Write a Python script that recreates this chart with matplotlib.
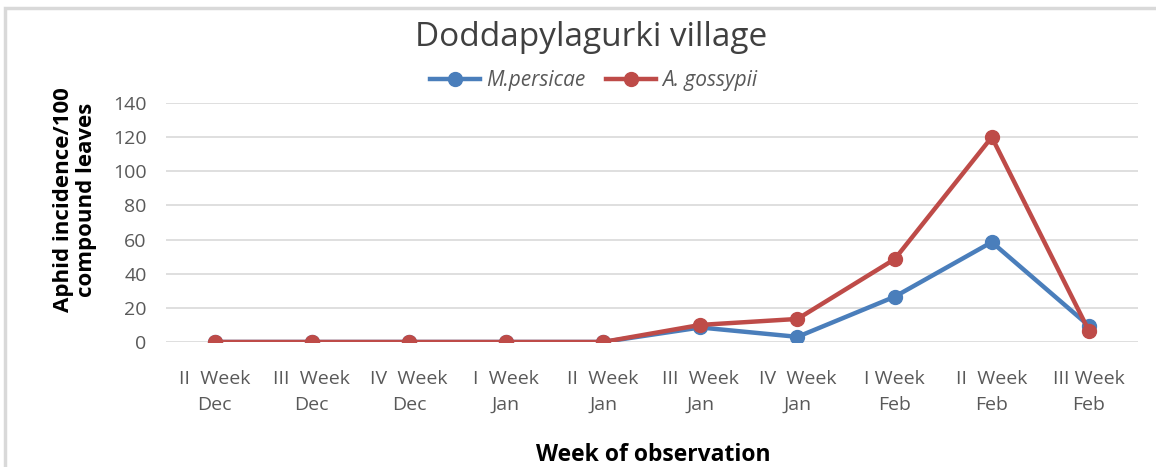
import matplotlib
matplotlib.use("Agg")
import matplotlib.pyplot as plt
from matplotlib.patches import Rectangle

categories = ["II  Week\nDec", "III  Week\nDec", "IV  Week\nDec", "I  Week\nJan", "II  Week\nJan",
              "III  Week\nJan", "IV  Week\nJan", "I Week\nFeb", "II  Week\nFeb", "III Week\nFeb"]
m_persicae = [0, 0, 0, 0, 0, 8.5, 3, 26.5, 58.5, 9.5]
a_gossypii = [0, 0, 0, 0, 0, 10, 13.5, 48.5, 120, 6.5]
yticks = [0, 20, 40, 60, 80, 100, 120, 140]

fam = ["Open Sans", "DejaVu Sans"]
plt.rcParams['font.family'] = fam

fig = plt.figure(figsize=(11.56, 4.67), dpi=100)
ax = fig.add_axes([0.1436, 0.2677, 0.8404, 0.5117])

x = list(range(len(categories)))
ax.plot(x, m_persicae, color="#4A7EBB", lw=3.2, marker="o", ms=10, label="M.persicae", zorder=3)
ax.plot(x, a_gossypii, color="#BE4B48", lw=3.2, marker="o", ms=10, label="A. gossypii", zorder=4)

ax.set_xlim(-0.5, len(categories) - 0.5)
ax.set_ylim(0, 140)
ax.set_yticks(yticks)
ax.set_xticks(x)
ax.set_xticklabels(categories, fontsize=14, color="#595959", linespacing=1.6)
ax.set_yticklabels([str(v) for v in yticks], fontsize=14, color="#595959")
ax.tick_params(axis='both', length=0)
ax.tick_params(axis='x', pad=20)
ax.tick_params(axis='y', pad=14)
ax.grid(axis='y', color="#D9D9D9", lw=1.2)
ax.set_axisbelow(True)
for s in ax.spines.values():
    s.set_visible(False)

fig.text(0.511, 0.92, "Doddapylagurki village", ha="center", va="center", fontsize=24, color="#404040")
leg = ax.legend(loc="center", bbox_to_anchor=(0.44, 1.095), ncol=2, frameon=False,
                prop={"style": "italic", "size": 15}, handlelength=2.4, columnspacing=1.0,
                handletextpad=0.3)
for t in leg.get_texts():
    t.set_color("#595959")

fig.text(0.065, 0.572, "Aphid incidence/100\ncompound leaves", rotation=90, ha="center", va="center",
         fontsize=16, fontweight="bold", color="black", linespacing=1.1)
fig.text(0.565, 0.025, "Week of observation", ha="center", va="center", fontsize=16.5,
         fontweight="bold", color="black")

fig.patches.append(Rectangle((0.004, -0.01), 1.1, 0.993, transform=fig.transFigure,
                             fill=False, edgecolor="#D9D9D9", lw=2.5))

fig.savefig("out.png", dpi=100)
